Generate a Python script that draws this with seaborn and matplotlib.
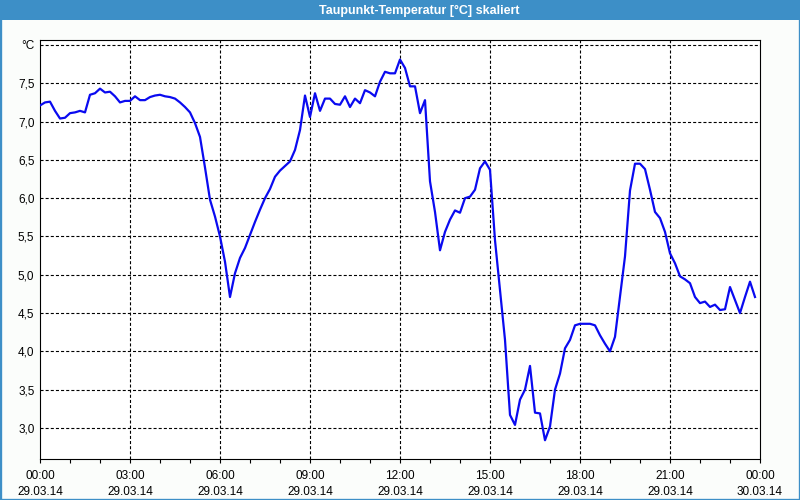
import matplotlib
matplotlib.use("Agg")
import matplotlib.pyplot as plt
from matplotlib.patches import Rectangle
import numpy as np
import pandas as pd
import seaborn as sns

# ---- data (10-minute readings, 29.03.14 00:00 .. 23:50) ----
dewpoint = [
    7.21, 7.25, 7.26, 7.14, 7.04, 7.05, 7.11, 7.12, 7.14, 7.12,
    7.35, 7.37, 7.43, 7.38, 7.39, 7.33, 7.25, 7.27, 7.27, 7.33,
    7.28, 7.28, 7.32, 7.34, 7.35, 7.33, 7.32, 7.30, 7.25, 7.19,
    7.12, 6.98, 6.80, 6.40, 5.98, 5.76, 5.50, 5.17, 4.71, 5.02,
    5.22, 5.35, 5.52, 5.69, 5.85, 6.00, 6.12, 6.28, 6.36, 6.42,
    6.48, 6.63, 6.89, 7.34, 7.06, 7.37, 7.14, 7.30, 7.30, 7.23,
    7.22, 7.33, 7.19, 7.30, 7.24, 7.41, 7.38, 7.33, 7.52, 7.65,
    7.63, 7.63, 7.81, 7.70, 7.46, 7.46, 7.11, 7.28, 6.22, 5.82,
    5.32, 5.56, 5.72, 5.84, 5.81, 6.00, 6.02, 6.11, 6.39, 6.48,
    6.37, 5.45, 4.80, 4.15, 3.17, 3.04, 3.37, 3.50, 3.81, 3.20,
    3.19, 2.84, 3.02, 3.50, 3.71, 4.04, 4.15, 4.34, 4.36, 4.36,
    4.36, 4.34, 4.21, 4.10, 4.00, 4.19, 4.71, 5.24, 6.10, 6.45,
    6.45, 6.38, 6.11, 5.82, 5.74, 5.56, 5.28, 5.15, 4.98, 4.94,
    4.89, 4.71, 4.63, 4.65, 4.58, 4.61, 4.54, 4.55, 4.84, 4.67,
    4.50, 4.71, 4.91, 4.71,
]
hours = [i / 6 for i in range(len(dewpoint))]

x_tick_hours = [0, 3, 6, 9, 12, 15, 18, 21, 24]
x_tick_labels = ["00:00\n29.03.14", "03:00\n29.03.14", "06:00\n29.03.14",
                 "09:00\n29.03.14", "12:00\n29.03.14", "15:00\n29.03.14",
                 "18:00\n29.03.14", "21:00\n29.03.14", "00:00\n30.03.14"]
y_tick_values = [3.0, 3.5, 4.0, 4.5, 5.0, 5.5, 6.0, 6.5, 7.0, 7.5, 8.0]
y_tick_labels = ["3,0", "3,5", "4,0", "4,5", "5,0", "5,5", "6,0", "6,5",
                 "7,0", "7,5", "°C"]
title = "Taupunkt-Temperatur [°C] skaliert"

df = pd.DataFrame({"hour": hours, "value": dewpoint})

plt.rcParams["font.family"] = ["Liberation Sans", "DejaVu Sans"]
plt.rcParams["lines.scale_dashes"] = False

frame_blue = "#3d8fc7"
fig = plt.figure(figsize=(8, 5), dpi=100)
fig.patch.set_facecolor("#fbfdfb")

# title bar
fig.patches.append(Rectangle((0, 1 - 20 / 500), 1, 20 / 500,
                             transform=fig.transFigure, facecolor=frame_blue,
                             edgecolor="none", zorder=0))
fig.patches.append(Rectangle((0, 0), 1, 1, transform=fig.transFigure,
                             fill=False, edgecolor=frame_blue, linewidth=2.4,
                             zorder=5))
fig.text(0.524, 1 - 10.5 / 500, title, color="white", fontsize=9,
         fontweight="bold", ha="center", va="center")

ax = fig.add_axes([40 / 800, 1 - 459 / 500, 720 / 800, 419 / 500])
ax.set_facecolor("white")

sns.lineplot(data=df, x="hour", y="value", ax=ax, color="#0a0af0",
             linewidth=1.6, zorder=3)

ax.set_xlim(0, 24)
ax.set_ylim(2.595, 8.065)
ax.set_xticks(x_tick_hours)
ax.set_xticklabels(x_tick_labels, fontsize=8.5, linespacing=1.45)
ax.set_xticks(range(0, 25), minor=True)
ax.set_yticks(y_tick_values)
ax.set_yticklabels(y_tick_labels, fontsize=8.5)
ax.tick_params(axis="x", which="both", direction="out", length=3,
               width=0.8, color="black", pad=5)
ax.tick_params(axis="y", length=0, pad=4)
ax.set_xlabel("")
ax.set_ylabel("")

for v in y_tick_values:
    ax.axhline(v, color="black", linewidth=0.8, linestyle=(0, (2.2, 1.5)),
               zorder=1)
for h in x_tick_hours[1:-1]:
    ax.axvline(h, color="black", linewidth=0.8, linestyle=(0, (2.2, 1.5)),
               zorder=1)

for s in ax.spines.values():
    s.set_color("black")
    s.set_linewidth(0.8)

fig.savefig("out.png", dpi=100, facecolor=fig.get_facecolor())
